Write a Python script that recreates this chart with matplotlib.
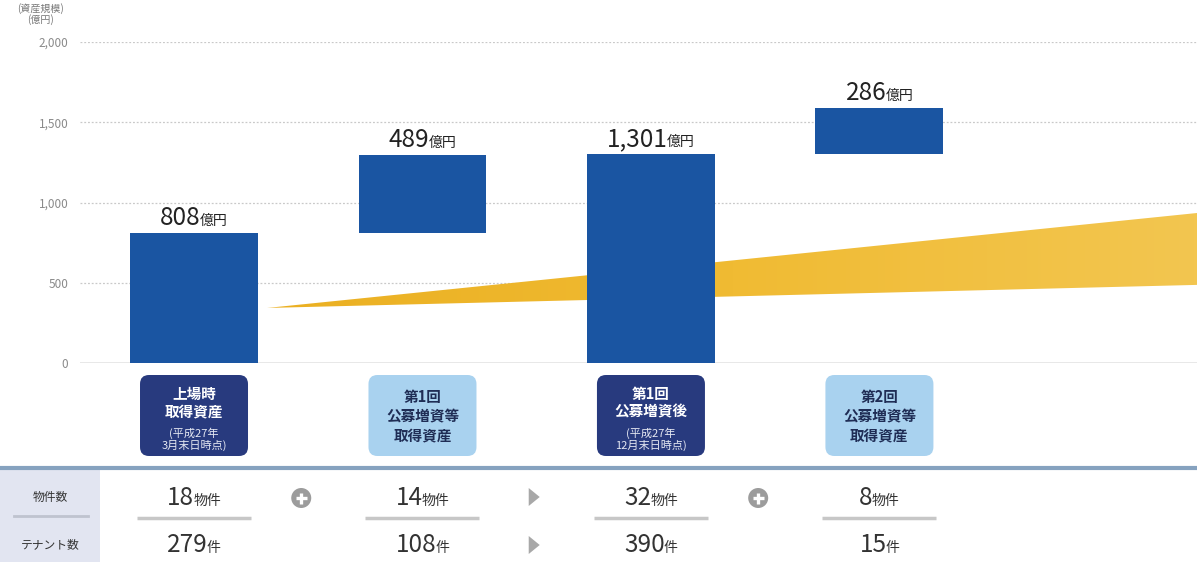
import matplotlib
matplotlib.use('Agg')
import matplotlib.pyplot as plt
from matplotlib.patches import FancyBboxPatch, Polygon, Circle
from matplotlib.colors import LinearSegmentedColormap
import numpy as np

plt.rcParams['font.family'] = ['Noto Sans CJK JP', 'DejaVu Sans']

# ---------------- data ----------------
categories = [['上場時', '取得資産'],
              ['第1回', '公募増資等', '取得資産'],
              ['第1回', '公募増資後'],
              ['第2回', '公募増資等', '取得資産']]
category_notes = [['(平成27年', '3月末日時点)'], [], ['(平成27年', '12月末日時点)'], []]
category_dark = [True, False, True, False]
bar_bottoms = [0, 808, 0, 1301]
bar_values = [808, 489, 1301, 286]
value_labels = ['808', '489', '1,301', '286']
value_unit = '億円'
properties = [18, 14, 32, 8]
tenants = [279, 108, 390, 15]
table_ops = ['plus', 'arrow', 'plus']
row_headers = ['物件数', 'テナント数']
yticks = [0, 500, 1000, 1500, 2000]
ytick_labels = ['0', '500', '1,000', '1,500', '2,000']
y_title = '(資産規模)\n(億円)'
band_x = [0.32, 4.40]
band_low = [343, 487]
band_high = [343, 936]

# ---------------- style ----------------
W, H = 1197, 562
BLUE = '#1a55a2'
DARK_BOX = '#283a7e'
LIGHT_BOX = '#a9d2ef'
GREY_TXT = '#8a8a8a'

fig = plt.figure(figsize=(W / 100, H / 100), dpi=100)
ax = fig.add_axes([80 / W, 1 - 363 / H, 1 - 80 / W, (363 - 42) / H])
x = np.arange(len(bar_values))
XL = (-0.499, 4.39)
ax.set_xlim(*XL)
ax.set_ylim(0, 2000)

# growth band with a soft left-to-right gradient
band_poly = Polygon(list(zip(band_x, band_low)) + list(zip(band_x[::-1], band_high[::-1])),
                    closed=True, fc='none', ec='none')
ax.add_patch(band_poly)
cmap = LinearSegmentedColormap.from_list('band', ['#ebb022', '#f0bb33', '#f3c650'])
grad = np.linspace(0, 1, 256).reshape(1, -1)
im = ax.imshow(grad, cmap=cmap, aspect='auto', zorder=1,
               extent=(band_x[0], band_x[1], min(band_low), max(band_high)),
               interpolation='bilinear')
im.set_clip_path(band_poly)
ax.set_xlim(*XL)
ax.set_ylim(0, 2000)

# bars
ax.bar(x, bar_values, bottom=bar_bottoms, width=0.56, color=BLUE, zorder=3)

# grid / axis
for s in ax.spines.values():
    s.set_visible(False)
ax.set_yticks(yticks)
ax.set_yticklabels(ytick_labels, color=GREY_TXT, fontsize=8.5)
ax.tick_params(axis='y', length=0, pad=8.5)
ax.tick_params(axis='x', length=0, labelbottom=False)
for t in yticks[1:]:
    ax.axhline(t, color='#c9c9c9', lw=0.9, ls=(0, (1.5, 1.5)), zorder=0)
ax.axhline(0, color='#8c8c8c', lw=1.0, zorder=2)

fig.text(40 / W, 1 - 3 / H, y_title, ha='center', va='top', fontsize=7.2,
         color='#777777', linespacing=1.05)

# overlay in pixel coordinates
ov = fig.add_axes([0, 0, 1, 1], zorder=5)
ov.set_xlim(0, W)
ov.set_ylim(H, 0)
ov.axis('off')
ov.patch.set_alpha(0)
renderer = fig.canvas.get_renderer()


def to_px(xd, yd):
    dx, dy = ax.transData.transform((xd, yd))
    return dx, H - dy


def mixed(xc, y, parts, color='#222222', gap=-1):
    texts = []
    for s, size in parts:
        texts.append(ov.text(0, y, s, fontsize=size, va='baseline', ha='left', color=color))
    widths = [t.get_window_extent(renderer).width for t in texts]
    total = sum(widths) + gap * (len(texts) - 1)
    xx = xc - total / 2
    for t, w in zip(texts, widths):
        t.set_x(xx)
        xx += w + gap


centers = []
for i in range(len(bar_values)):
    cx, top = to_px(x[i], bar_bottoms[i] + bar_values[i])
    centers.append(cx)
    mixed(cx, top - 8, [(value_labels[i], 17.5), (value_unit, 10)])

# category boxes
bw, bh = 108, 81
for i, cx in enumerate(centers):
    dark = category_dark[i]
    box = FancyBboxPatch((cx - bw / 2, 375), bw, bh,
                         boxstyle='round,pad=0,rounding_size=9',
                         fc=DARK_BOX if dark else LIGHT_BOX, ec='none')
    ov.add_patch(box)
    col = 'white' if dark else '#1f2d55'
    lines = categories[i]
    if category_notes[i]:
        ys = [393.5 + 17.5 * j for j in range(len(lines))]
    else:
        ys = [397 + 19 * j for j in range(len(lines))]
    for yy, line in zip(ys, lines):
        ov.text(cx, yy, line, ha='center', va='center', fontsize=10.5,
                fontweight='bold', color=col)
    for j, line in enumerate(category_notes[i]):
        ov.text(cx, 433 + 12.5 * j, line, ha='center', va='center', fontsize=8,
                color='#e6e9f3')

# table
ov.add_patch(plt.Rectangle((0, 469), 100, H - 469, fc='#e2e5f1', ec='none'))
ov.plot([0, W], [468, 468], color='#86a2bf', lw=3, solid_capstyle='butt')
ov.plot([14, 88], [516, 516], color='#bfc3cf', lw=2)
row_y = [505, 552]
ov.text(50, 497, row_headers[0], ha='center', va='center', fontsize=8.5, color='#333333')
ov.text(50, 545, row_headers[1], ha='center', va='center', fontsize=8.5, color='#333333')
for i, cx in enumerate(centers):
    mixed(cx, row_y[0], [(str(properties[i]), 17.5), ('物件', 10)], color='#333333')
    mixed(cx, row_y[1], [(str(tenants[i]), 17.5), ('件', 10)], color='#333333')
    ov.plot([cx - 57, cx + 57], [518, 518], color='#c7c7c7', lw=2.5, solid_capstyle='butt')

for i, op in enumerate(table_ops):
    mx = (centers[i] + centers[i + 1]) / 2
    if op == 'plus':
        mx -= 7
        ov.add_patch(Circle((mx, 498), 10, fc='#9c9c9c', ec='none'))
        ov.plot([mx - 5.5, mx + 5.5], [498, 498], color='white', lw=2.4, solid_capstyle='butt')
        ov.plot([mx, mx], [492.5, 503.5], color='white', lw=2.4, solid_capstyle='butt')
    else:
        mx -= 3
        for yy in (497, 545):
            ov.add_patch(Polygon([[mx - 5, yy - 9], [mx - 5, yy + 9], [mx + 6, yy]],
                                 closed=True, fc='#a8a8a8', ec='none'))

fig.savefig('out.png', dpi=100)
